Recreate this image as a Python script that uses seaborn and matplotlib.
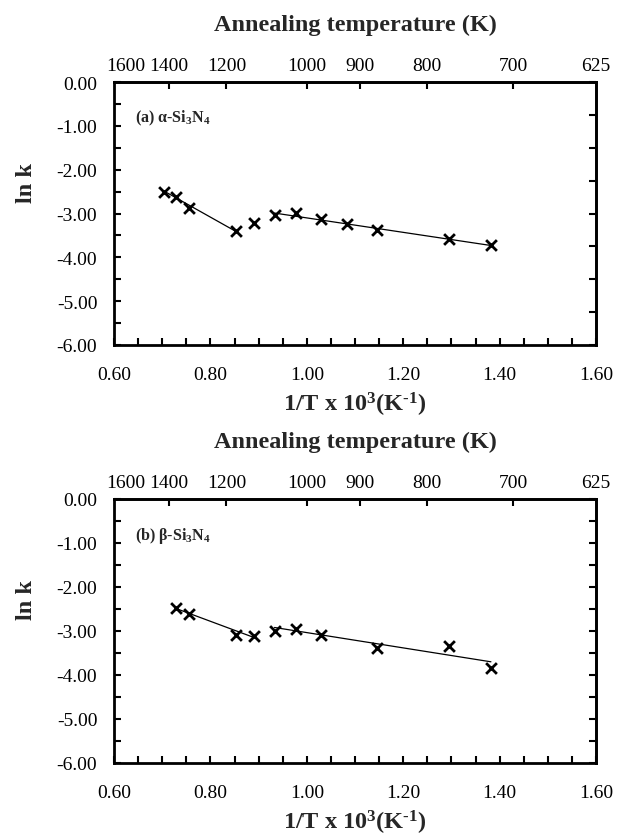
import numpy as np
import pandas as pd
import matplotlib
matplotlib.use("Agg")
import matplotlib.pyplot as plt
import seaborn as sns
from matplotlib.ticker import MultipleLocator, FormatStrFormatter

# ---------------- data ----------------
# (a) alpha-Si3N4
alpha_x = [0.704, 0.728, 0.756, 0.853, 0.891, 0.933, 0.978, 1.029, 1.083, 1.146, 1.294, 1.382]
alpha_y = [-2.50, -2.62, -2.88, -3.40, -3.22, -3.03, -2.99, -3.13, -3.24, -3.38, -3.59, -3.73]
alpha_fit1_x = [0.704, 0.853]
alpha_fit1_y = [-2.49, -3.41]
alpha_fit2_x = [0.933, 1.382]
alpha_fit2_y = [-2.99, -3.73]

# (b) beta-Si3N4
beta_x = [0.729, 0.756, 0.853, 0.891, 0.933, 0.978, 1.029, 1.146, 1.294, 1.382]
beta_y = [-2.48, -2.61, -3.08, -3.11, -3.01, -2.95, -3.08, -3.39, -3.34, -3.83]
beta_fit1_x = [0.729, 0.891]
beta_fit1_y = [-2.49, -3.15]
beta_fit2_x = [0.933, 1.382]
beta_fit2_y = [-2.92, -3.70]

temp_ticks = [1600, 1400, 1200, 1000, 900, 800, 700, 625]
panel_labels = ["(a) α-Si$_3$N$_4$", "(b) β-Si$_3$N$_4$"]
xlabel = r"1/T x 10$^3$(K$^{\text{-}1}$)"
ylabel = "ln k"
toplabel = "Annealing temperature (K)"

# ---------------- style ----------------
sns.set_theme(style="white")
plt.rcParams["font.family"] = ["Liberation Serif", "DejaVu Serif"]
plt.rcParams["mathtext.fontset"] = "custom"
plt.rcParams["mathtext.rm"] = "Liberation Serif:bold"
plt.rcParams["mathtext.it"] = "Liberation Serif:bold:italic"
plt.rcParams["mathtext.bf"] = "Liberation Serif:bold"
plt.rcParams["axes.unicode_minus"] = False

W, H = 626, 837
fig = plt.figure(figsize=(W / 100, H / 100), dpi=100)

def frac_rect(l, t, r, b):
    return [l / W, 1 - b / H, (r - l) / W, (b - t) / H]

ax_a = fig.add_axes(frac_rect(114, 83, 596, 346))
ax_b = fig.add_axes(frac_rect(114, 500, 596, 764))

datasets = [
    (ax_a, alpha_x, alpha_y, alpha_fit1_x, alpha_fit1_y, alpha_fit2_x, alpha_fit2_y, 0.75),
    (ax_b, beta_x, beta_y, beta_fit1_x, beta_fit1_y, beta_fit2_x, beta_fit2_y, 0.5),
]

for i, (ax, xs, ys, f1x, f1y, f2x, f2y, right_step) in enumerate(datasets):
    sns.lineplot(x=f1x, y=f1y, ax=ax, color="black", lw=0.9, sort=False)
    sns.lineplot(x=f2x, y=f2y, ax=ax, color="black", lw=0.9, sort=False)
    sns.scatterplot(x=xs, y=ys, ax=ax, marker="x", color="black", s=60,
                    linewidth=2.0, zorder=5)
    ax.set_xlim(0.6, 1.6)
    ax.set_ylim(-6, 0)
    ax.xaxis.set_major_locator(MultipleLocator(0.2))
    ax.xaxis.set_minor_locator(MultipleLocator(0.05))
    ax.yaxis.set_major_locator(MultipleLocator(1.0))
    ax.yaxis.set_minor_locator(MultipleLocator(0.5))
    ax.xaxis.set_major_formatter(FormatStrFormatter("%.2f"))
    ax.yaxis.set_major_formatter(FormatStrFormatter("%.2f"))
    ax.tick_params(axis="both", which="both", direction="in", length=5, width=1.5,
                   colors="black", labelsize=14, bottom=True, left=True,
                   top=False, right=False)
    ax.tick_params(axis="x", which="major", pad=15)
    ax.tick_params(axis="y", which="major", pad=12)
    for sp in ax.spines.values():
        sp.set_linewidth(2)
        sp.set_color("black")
    ax.set_xlabel(xlabel, fontsize=17.5, fontweight="bold", labelpad=5)
    ax.set_ylabel(ylabel, fontsize=17.5, fontweight="bold")
    ax.yaxis.set_label_coords(-0.16, 0.62)
    ax.text(0.044, 0.865, panel_labels[i], transform=ax.transAxes, fontsize=11.5,
            fontweight="bold", va="center", ha="left")

    # top temperature axis
    sec = ax.secondary_xaxis("top")
    sec.set_xticks([1000.0 / t for t in temp_ticks])
    sec.set_xticklabels([str(t) for t in temp_ticks])
    sec.tick_params(axis="x", direction="in", length=5, width=1.5, labelsize=14,
                    pad=6, colors="black")
    for t, tk in zip(temp_ticks, sec.xaxis.get_major_ticks()):
        if t in (1600, 625):
            tk.tick1line.set_visible(False)
            tk.tick2line.set_visible(False)
    sec.set_xlabel(toplabel, fontsize=17.5, fontweight="bold", labelpad=19)
    sec.spines["top"].set_linewidth(2)

    # right axis ticks (no labels)
    secy = ax.secondary_yaxis("right")
    secy.set_yticks(np.arange(0, -6.001, -right_step))
    secy.tick_params(axis="y", direction="in", length=5, width=1.5,
                     labelright=False, colors="black")
    secy.spines["right"].set_linewidth(2)

fig.savefig("out.png", dpi=100, facecolor="white")
